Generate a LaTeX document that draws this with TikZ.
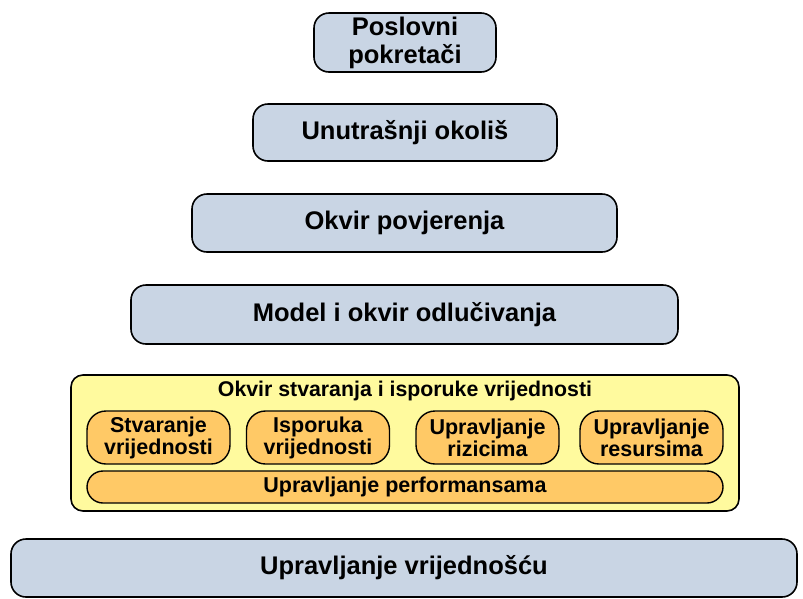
\documentclass[tikz,border=0pt]{standalone}
\usepackage{fontspec}
\setmainfont{Liberation Sans}
\usetikzlibrary{positioning}

\definecolor{layerblue}{HTML}{C9D5E4}
\definecolor{frameyellow}{HTML}{FFFA9E}
\definecolor{partorange}{HTML}{FFC966}

\tikzset{
    % --- Layer of the pyramid ---
    layer/.style = {
        rectangle, draw, line width=1.6pt, rounded corners=15pt,
        fill=layerblue, minimum height=58pt, align=center, inner sep=1pt,
        font=\fontsize{25.5}{28}\selectfont\bfseries
    },
    % --- Value framework enclosure ---
    frame/.style = {
        rectangle, draw, line width=1.6pt, rounded corners=12pt,
        fill=frameyellow
    },
    % --- Part inside the framework ---
    part/.style = {
        rectangle, draw, line width=1.4pt, rounded corners=19pt,
        fill=partorange, minimum width=143pt, minimum height=53pt,
        align=center, inner sep=1pt,
        font=\fontsize{21.5}{22}\selectfont\bfseries
    }
}

\begin{document}
\begin{tikzpicture}[x=1pt, y=-1pt]
\useasboundingbox (0,0) rectangle (803,598);

% ---------------------------------------------------------
% Pyramid layers
% ---------------------------------------------------------
\node[layer, minimum width=182pt, minimum height=59pt] (Drivers) at (405, 42.5) {Poslovni\\pokretači};
\node[layer, minimum width=304pt, minimum height=57pt] (Internal) at (405, 132.5) {Unutrašnji okoliš};
\node[layer, minimum width=425pt] (Trust) at (404.5, 223) {Okvir povjerenja};
\node[layer, minimum width=547pt, minimum height=59pt] (Decision) at (404.5, 314.5) {Model i okvir odlučivanja};

% ---------------------------------------------------------
% Value creation and delivery framework
% ---------------------------------------------------------
\node[frame, minimum width=668pt, minimum height=136pt] (Frame) at (405, 443) {};
\node[font=\fontsize{21.3}{24}\selectfont\bfseries] (FrameTitle) at (405, 391) {Okvir stvaranja i isporuke vrijednosti};

\node[part] (Create) at (158.5, 437.5) {Stvaranje\\vrijednosti};
\node[part] (Deliver) at (318, 437.5) {Isporuka\\vrijednosti};
\node[part] (Risk) at (487.5, 437.5) {Upravljanje\\rizicima};
\node[part] (Resource) at (651.5, 437.5) {Upravljanje\\resursima};
\node[part, minimum width=636pt, minimum height=32pt, rounded corners=16pt] (Perf) at (405, 487) {Upravljanje performansama};

% ---------------------------------------------------------
% Base layer
% ---------------------------------------------------------
\node[layer, minimum width=786pt, minimum height=58pt] (Value) at (404, 568) {Upravljanje vrijednošću};

\end{tikzpicture}
\end{document}
